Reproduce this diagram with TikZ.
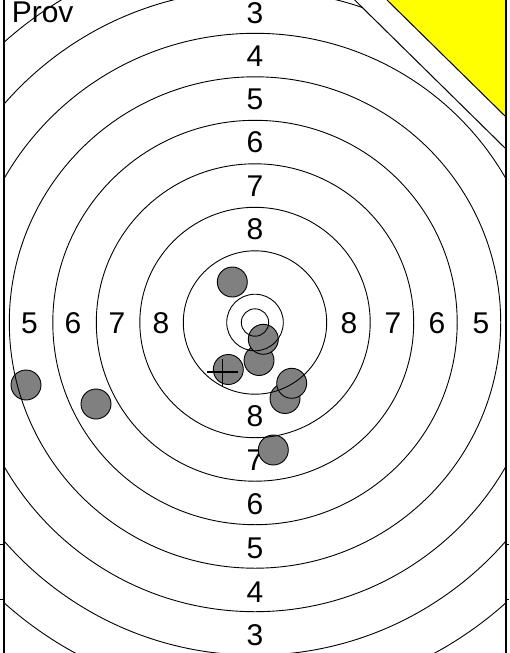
\documentclass[tikz,border=0pt]{standalone}
\usepackage{fontspec}
\setmainfont{Liberation Sans}
\definecolor{shotgray}{RGB}{128,128,128}
\definecolor{markyellow}{RGB}{255,255,0}
\begin{document}
\begin{tikzpicture}[x=1pt,y=-1pt,
  ring/.style={draw=black,line width=0.9pt},
  shot/.style={draw=black,fill=shotgray,line width=0.9pt},
  lbl/.style={font=\fontsize{30}{30}\selectfont,inner sep=0pt,anchor=base},
  frameline/.style={draw=black,line width=1.3pt},
  crossline/.style={draw=black,line width=1.3pt}]
\useasboundingbox (0,0) rectangle (509,653);
% centre of the target
\coordinate (c) at (255,322.5);
% title
\node[font=\fontsize{30}{30}\selectfont,inner sep=0pt,anchor=base west] (prov) at (11.6,22.2) {Prov};
% ring labels, vertical column
\node[lbl] (t3) at (255,23.2) {3};
\node[lbl] (t4) at (255,66.7) {4};
\node[lbl] (t5) at (255,109.2) {5};
\node[lbl] (t6) at (255,152.7) {6};
\node[lbl] (t7) at (255,196.2) {7};
\node[lbl] (t8) at (255,239.7) {8};
\node[lbl] (b8) at (255,426.2) {8};
\node[lbl] (b7) at (255,470.7) {7};
\node[lbl] (b6) at (255,514.7) {6};
\node[lbl] (b5) at (255,558.7) {5};
\node[lbl] (b4) at (255,602.7) {4};
\node[lbl] (b3) at (255,645.7) {3};
% ring labels, horizontal row
\node[lbl] (l5) at (29.5,333.7) {5};
\node[lbl] (l6) at (73,333.7) {6};
\node[lbl] (l7) at (117,333.7) {7};
\node[lbl] (l8) at (161,333.7) {8};
\node[lbl] (r8) at (349,333.7) {8};
\node[lbl] (r7) at (393,333.7) {7};
\node[lbl] (r6) at (437,333.7) {6};
\node[lbl] (r5) at (481,333.7) {5};
% shots
\path[shot] (232.3,282) circle[radius=15pt];
\path[shot] (259,360.5) circle[radius=15pt];
\path[shot] (263.3,339.3) circle[radius=15pt];
\path[shot] (228.3,369.5) circle[radius=15pt];
\path[shot] (285,398.5) circle[radius=15pt];
\path[shot] (291.7,383.3) circle[radius=15pt];
\path[shot] (273.3,450) circle[radius=15pt];
\path[shot] (26,385) circle[radius=15pt];
\path[shot] (96,404) circle[radius=15pt];
% cross mark
\coordinate (ch1) at (207,372);
\coordinate (ch2) at (238,372);
\coordinate (cv1) at (222.5,359);
\coordinate (cv2) at (222.5,387);
\draw[crossline] (ch1) -- (ch2);
\draw[crossline] (cv1) -- (cv2);
% rings
\begin{scope}
\clip (4.5,0) -- (354.7,0) -- (506,149) -- (506,653) -- (4.5,653) -- cycle;
\foreach \r in {13.7,28.3,71.7,115.2,158.7,202.2,245.7,289.2,332.7,376.2}
  \draw[ring] (c) circle[radius=\r pt];
\end{scope}
% sighting corner
\coordinate (d1) at (354.7,0);
\coordinate (d2) at (506,149);
\draw[line width=1pt] (d1) -- (d2);
\coordinate (y1) at (387,0);
\coordinate (y2) at (506,0);
\coordinate (y3) at (506,117);
\fill[markyellow] (y1) -- (y2) -- (y3) -- cycle;
\draw[line width=1pt] (y1) -- (y3);
% frame
\coordinate (fl1) at (4,0);
\coordinate (fl2) at (4,653);
\coordinate (fr1) at (506,0);
\coordinate (fr2) at (506,653);
\draw[frameline] (fl1) -- (fl2);
\draw[line width=1.1pt] (fr1) -- (fr2);
\coordinate (tl1) at (0,544);
\coordinate (tl2) at (0,599);
\coordinate (tr1) at (509,544);
\coordinate (tr2) at (509,599);
\draw[line width=1pt] (tl1) -- (fl1 |- tl1);
\draw[line width=1pt] (tl2) -- (fl1 |- tl2);
\draw[line width=1pt] (tr1) -- (fr1 |- tr1);
\draw[line width=1pt] (tr2) -- (fr1 |- tr2);
\end{tikzpicture}
\end{document}
